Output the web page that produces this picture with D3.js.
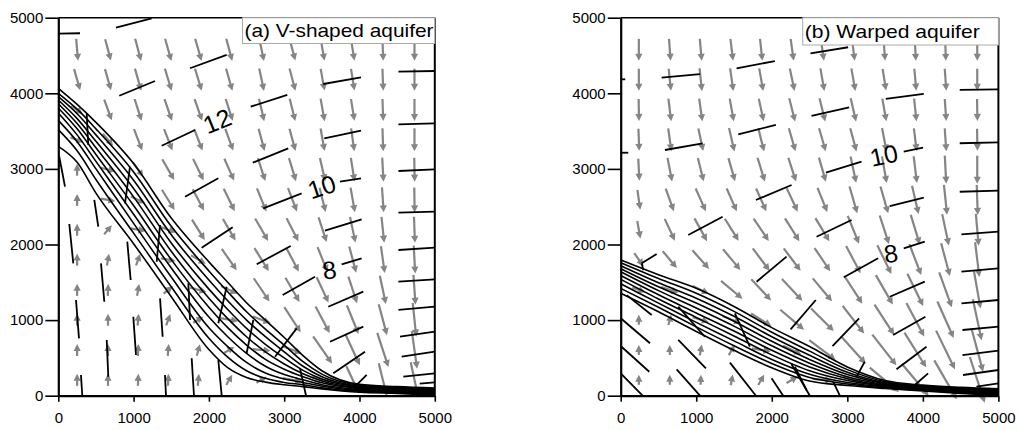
<!DOCTYPE html>
<html>
<head>
<meta charset="utf-8">
<script src="https://cdn.jsdelivr.net/npm/d3@7"></script>
<style>
  body { margin: 0; background: #fff; }
  text { font-family: "Liberation Sans", Arial, sans-serif; }
</style>
</head>
<body>
<svg id="chart" width="1017" height="430"></svg>
<script>
// ---- data (metres) ----
var tickValues = [0, 1000, 2000, 3000, 4000, 5000];
var titles = ["(a) V-shaped aquifer", "(b) Warped aquifer"];

// velocity grid (arrow centres)
var arrowColsA = [250, 660, 1060, 1460, 1860, 2270, 2700, 3110, 3510, 3910, 4310, 4730];
var arrowColsB = [240, 650, 1060, 1470, 1860, 2270, 2670, 3080, 3490, 3900, 4300, 4720];
var arrowRows = [4575, 4180, 3780, 3385, 2990, 2590, 2195, 1800, 1400, 1005, 605, 210];

// flow direction, degrees clockwise from straight down (0 = down, 90 = right, 180 = up)
var dirA = [
  [5, 15, 15, 16, 16, 15, 12, 15, 10, 9, 2, 0],
  [16, 16, 16, 17, 17, 16, 12, 15, 10, 9, 2, 0],
  [55, 20, 18, 19, 19, 18, 13, 14, 10, 9, 2, 0],
  [70, 40, 21, 21, 21, 20, 15, 15, 10, 8, 2, 0],
  [180, 75, 35, 30, 26, 24, 18, 17, 13, 9, 3, 1],
  [180, 80, 65, 32, 28, 26, 22, 21, 14, 10, 4, 1],
  [180, 140, 80, 70, 32, 30, 30, 27, 18, 12, 6, 2],
  [180, 170, 160, 80, 60, 35, 32, 28, 22, 15, 8, 3],
  [180, 178, 170, 130, 75, 65, 34, 30, 25, 18, 12, 4],
  [180, 180, 175, 160, 120, 80, 70, 33, 28, 22, 15, 6],
  [180, 180, 178, 175, 165, 120, 85, 70, 35, 25, 18, 8],
  [180, 180, 178, 178, 175, 150, 120, 80, 75, 25, 14, 12]
];
// flow speed (m/d)
var speedA = [
  [.22, .22, .23, .23, .23, .23, .23, .22, .22, .22, .22, .22],
  [.22, .22, .23, .23, .23, .23, .23, .23, .22, .22, .22, .22],
  [.14, .22, .23, .23, .23, .23, .23, .23, .23, .22, .22, .22],
  [.14, .16, .23, .23, .23, .23, .23, .23, .23, .23, .23, .23],
  [.12, .15, .18, .24, .24, .24, .24, .24, .24, .24, .24, .24],
  [.12, .15, .16, .24, .24, .25, .25, .25, .25, .25, .25, .25],
  [.12, .12, .15, .16, .24, .25, .26, .26, .26, .26, .26, .26],
  [.12, .12, .12, .15, .17, .26, .27, .27, .27, .27, .27, .28],
  [.12, .12, .12, .12, .17, .18, .28, .28, .28, .28, .29, .30],
  [.12, .12, .12, .12, .12, .18, .19, .30, .30, .31, .32, .34],
  [.12, .12, .12, .12, .12, .12, .18, .20, .33, .34, .36, .38],
  [.12, .12, .12, .12, .12, .12, .12, .20, .22, .30, .34, .36]
];
var dirB = [
  [0, 4, 5, 7, 6, 8, 8, 7, 4, 3, 2, 0],
  [0, 6, 6, 8, 10, 12, 10, 10, 9, 5, 4, 0],
  [1, 7, 8, 10, 12, 14, 14, 13, 10, 6, 4, 1],
  [2, 8, 12, 13, 14, 16, 16, 15, 11, 7, 4, 1],
  [3, 11, 14, 16, 17, 18, 16, 12, 10, 7, 3, 0],
  [8, 20, 24, 24, 24, 25, 22, 16, 16, 13, 6, 2],
  [10, 25, 29, 32, 34, 32, 31, 22, 18, 17, 12, 5],
  [35, 40, 42, 40, 37, 37, 34, 28, 26, 21, 15, 7],
  [70, 72, 65, 50, 43, 43, 40, 33, 30, 26, 20, 10],
  [180, 165, 72, 68, 58, 50, 45, 38, 33, 28, 24, 12],
  [180, 180, 170, 150, 80, 65, 53, 42, 38, 32, 26, 15],
  [180, 180, 178, 170, 150, 120, 85, 70, 50, 40, 30, 18]
];
var speedB = [
  [.22, .22, .22, .22, .22, .22, .22, .22, .22, .22, .22, .22],
  [.22, .22, .23, .23, .23, .23, .23, .23, .22, .22, .22, .22],
  [.22, .23, .23, .23, .23, .24, .24, .24, .23, .23, .22, .22],
  [.22, .23, .23, .24, .24, .24, .24, .24, .24, .23, .23, .22],
  [.22, .24, .24, .24, .25, .25, .25, .27, .27, .27, .28, .28],
  [.20, .24, .25, .25, .25, .26, .26, .28, .28, .29, .30, .30],
  [.18, .24, .26, .26, .27, .27, .27, .30, .30, .31, .32, .32],
  [.16, .22, .25, .27, .28, .28, .28, .31, .32, .33, .34, .35],
  [.14, .18, .18, .28, .29, .30, .30, .33, .34, .36, .37, .38],
  [.10, .11, .17, .20, .24, .31, .32, .35, .36, .38, .40, .42],
  [.10, .10, .11, .12, .19, .20, .33, .37, .39, .41, .43, .45],
  [.10, .10, .10, .11, .12, .13, .20, .22, .38, .42, .45, .48]
];

// transition-zone isolines: elevation of each of the 10 lines at these x positions
var zoneX = [0, 250, 500, 1000, 1500, 2000, 2250, 2500, 2750, 3000, 3250, 3500, 4000, 4500, 5000];
var zoneA = [
  [4066, 4000, 3955, 3911, 3862, 3806, 3740, 3642, 3519, 3298],
  [3853, 3790, 3730, 3665, 3600, 3530, 3450, 3360, 3240, 3087],
  [3615, 3530, 3450, 3365, 3280, 3190, 3100, 3000, 2860, 2680],
  [3070, 2960, 2850, 2740, 2630, 2515, 2400, 2280, 2150, 2010],
  [2350, 2240, 2130, 2020, 1910, 1800, 1690, 1570, 1440, 1310],
  [1770, 1650, 1530, 1410, 1290, 1170, 1040, 900, 760, 610],
  [1500, 1375, 1255, 1140, 1020, 900, 780, 650, 510, 370],
  [1230, 1110, 1000, 890, 780, 670, 560, 440, 330, 240],
  [1000, 880, 780, 680, 580, 480, 390, 300, 230, 180],
  [770, 670, 580, 500, 420, 350, 280, 220, 175, 145],
  [530, 450, 390, 335, 290, 250, 210, 175, 145, 120],
  [330, 285, 250, 220, 195, 170, 145, 125, 105, 90],
  [150, 138, 126, 115, 104, 93, 82, 70, 58, 46],
  [120, 108, 96, 86, 76, 66, 56, 46, 38, 30],
  [100, 90, 80, 70, 60, 50, 40, 30, 20, 8]
];
var zoneXB = [0, 500, 1000, 1500, 2000, 2500, 3000, 3500, 4000, 4500, 5000];
var zoneB = [
  [1795, 1760, 1720, 1680, 1640, 1590, 1540, 1480, 1420, 1355],
  [1600, 1550, 1495, 1440, 1390, 1335, 1280, 1225, 1170, 1110],
  [1420, 1355, 1290, 1225, 1160, 1095, 1035, 970, 910, 850],
  [1180, 1115, 1050, 985, 920, 855, 790, 725, 660, 600],
  [900, 840, 780, 720, 660, 600, 540, 480, 425, 370],
  [650, 590, 535, 480, 430, 380, 330, 285, 240, 195],
  [380, 345, 310, 280, 250, 225, 200, 175, 155, 135],
  [200, 185, 170, 158, 146, 135, 125, 115, 105, 95],
  [140, 130, 120, 112, 104, 96, 88, 80, 72, 64],
  [110, 100, 90, 80, 70, 62, 54, 46, 38, 30],
  [90, 80, 70, 60, 50, 40, 30, 20, 10, 5]
];

// head contour pieces [x1, y1, x2, y2]
var headA = [
  [0, 4790, 288, 4794], [766, 4868, 1240, 4992], [1749, 4331, 2236, 4507],
  [810, 3968, 1284, 4163], [1373, 3307, 1816, 3514], [1683, 2632, 2125, 2876],
  [13, 3161, 89, 2765], [377, 3735, 398, 3316], [952, 3029, 886, 2545],
  [4517, 4286, 5000, 4295], [3519, 4123, 4020, 4212], [2555, 3823, 3041, 3978],
  [3532, 3405, 4020, 3505], [4517, 3590, 5000, 3603], [2582, 3082, 3054, 3272],
  [4517, 2972, 5000, 2995], [3741, 2831, 4020, 2876], [2722, 2479, 3232, 2677],
  [3541, 2183, 4028, 2333], [1904, 1958, 2316, 2228], [2635, 1738, 3086, 1980],
  [2980, 1332, 3409, 1574], [3763, 1738, 4028, 1817], [4517, 2421, 5000, 2434],
  [4517, 1927, 5000, 1958], [4517, 1508, 5000, 1540], [4517, 1134, 5000, 1177],
  [4538, 780, 5000, 847], [4560, 516, 5000, 582], [4582, 251, 5000, 296],
  [4800, 160, 5000, 175], [3585, 1177, 4050, 1376], [3608, 714, 4050, 913],
  [3652, 296, 4073, 582], [3940, 119, 4095, 274], [2878, 516, 3166, 891],
  [3210, 362, 3290, 0], [1351, 2258, 1307, 1772], [1727, 1487, 1749, 1001],
  [2236, 1442, 2125, 958], [2590, 1001, 2501, 561], [146, 2271, 199, 1751],
  [235, 1266, 275, 759], [301, 274, 319, 0], [478, 2589, 531, 2236],
  [567, 1751, 611, 1243], [643, 737, 664, 251], [916, 2037, 961, 1530],
  [996, 1045, 1032, 538], [1351, 1288, 1386, 780], [1417, 274, 1430, 0],
  [1771, 495, 1802, 0], [2125, 472, 2170, 0]
];
var headB = [
  [0, 4185, 60, 4185], [0, 3214, 100, 3214], [542, 4206, 1049, 4255],
  [1534, 4331, 2041, 4427], [586, 3250, 1085, 3339], [1556, 3458, 2054, 3581],
  [1790, 2589, 2262, 2787], [2513, 4529, 3011, 4609], [3509, 3925, 4012, 3991],
  [4488, 4044, 5000, 4053], [2526, 3700, 3024, 3815], [3747, 3228, 4003, 3280],
  [4488, 3339, 5000, 3352], [2716, 2950, 3188, 3095], [4488, 2698, 5000, 2712],
  [3562, 2509, 4012, 2619], [894, 2126, 1349, 2368], [1799, 1508, 2196, 1839],
  [278, 1751, 476, 1874], [278, 1751, 300, 1660], [0, 296, 290, 0],
  [0, 657, 378, 317], [0, 1024, 388, 693], [80, 1330, 410, 1067],
  [741, 349, 1049, 0], [762, 737, 1128, 362], [762, 1177, 1115, 780],
  [1446, 437, 1790, 0], [1512, 1090, 1710, 648], [1997, 230, 2151, 0],
  [2306, 384, 2460, 75], [2260, 420, 2504, 0], [2812, 185, 2901, 0],
  [3122, 251, 3231, 450], [2593, 2103, 3056, 2324], [2954, 1566, 3408, 1817],
  [2249, 878, 2583, 1266], [2804, 657, 3156, 1024], [3747, 1950, 4025, 2037],
  [3562, 1309, 4025, 1508], [3606, 803, 4034, 1045], [3651, 349, 4048, 648],
  [3893, 142, 4069, 296], [4511, 2135, 5000, 2169], [4511, 1640, 5000, 1685],
  [4511, 1222, 5000, 1266], [4524, 869, 5000, 913], [4524, 538, 5000, 595],
  [4532, 274, 5000, 340], [4709, 119, 5000, 164]
];

// contour labels [x, y, text, rotation]
var labelsA = [[2108, 3634, "12", -22], [3498, 2765, "10", -18], [3599, 1663, "8", -8]];
var labelsB = [[3483, 3181, "10", -12], [3576, 1884, "8", -8]];

// ---- layout ----
var svg = d3.select("#chart");
var plotTop = 17.7, plotBottom = 395.7;

var panels = [
  { left: 58.3, right: 434.8, cols: arrowColsA, dir: dirA, speed: speedA,
    zx: zoneX, zone: zoneA, head: headA, labels: labelsA, title: titles[0],
    boxW: 192.3, boxH: 25.8, titleLen: 189 },
  { left: 620.7, right: 998.4, cols: arrowColsB, dir: dirB, speed: speedB,
    zx: zoneXB, zone: zoneB, head: headB, labels: labelsB, title: titles[1],
    boxW: 195.7, boxH: 27.3, titleLen: 175 }
];

var arrowLen = d3.scaleLinear().domain([0, 1]).range([0, 100]);
var grey = "#858585";

panels.forEach(function(p) {
  var x = d3.scaleLinear().domain([0, 5000]).range([p.left, p.right]);
  var y = d3.scaleLinear().domain([0, 5000]).range([plotBottom, plotTop]);
  var g = svg.append("g");

  // velocity arrows
  var arrows = [];
  arrowRows.forEach(function(ry, j) {
    p.cols.forEach(function(cx, i) {
      arrows.push({ x: cx, y: ry, a: p.dir[j][i], s: p.speed[j][i] });
    });
  });
  var ag = g.append("g");
  arrows.forEach(function(d) {
    var L = arrowLen(d.s);
    var rad = d.a * Math.PI / 180;
    var ux = Math.sin(rad), uy = Math.cos(rad);   // screen coords, y down
    var cx = x(d.x), cy = y(d.y);
    var tx = cx - ux * L / 2, ty = cy - uy * L / 2;
    var hx = cx + ux * L / 2, hy = cy + uy * L / 2;
    var hl = 7, hw = 3.6;
    var bx = hx - ux * hl, by = hy - uy * hl;
    ag.append("line")
      .attr("x1", tx).attr("y1", ty).attr("x2", bx + ux).attr("y2", by + uy)
      .attr("stroke", grey).attr("stroke-width", 2.2);
    ag.append("path")
      .attr("d", "M" + hx + "," + hy + "L" + (bx - uy * hw) + "," + (by + ux * hw) +
                 "L" + (bx + uy * hw) + "," + (by - ux * hw) + "Z")
      .attr("fill", grey);
  });

  // transition-zone lines
  var line = d3.line().x(d => x(d[0])).y(d => y(d[1])).curve(d3.curveMonotoneX);
  for (var k = 0; k < 10; k++) {
    var pts = p.zx.map(function(xv, i) { return [xv, p.zone[i][k]]; });
    g.append("path").attr("d", line(pts))
      .attr("fill", "none").attr("stroke", "#000").attr("stroke-width", 1.6);
  }

  // head contours
  g.append("g").selectAll("line").data(p.head).enter().append("line")
    .attr("x1", d => x(d[0])).attr("y1", d => y(d[1]))
    .attr("x2", d => x(d[2])).attr("y2", d => y(d[3]))
    .attr("stroke", "#000").attr("stroke-width", 1.8);

  g.append("g").selectAll("text").data(p.labels).enter().append("text")
    .attr("transform", d => "translate(" + x(d[0]) + "," + y(d[1]) + ") rotate(" + d[3] + ")")
    .attr("text-anchor", "middle").attr("dy", "0.36em")
    .attr("font-size", 25).text(d => d[2]);

  // frame
  g.append("line").attr("x1", p.left).attr("x2", p.right)
    .attr("y1", plotTop).attr("y2", plotTop).attr("stroke", "#000").attr("stroke-width", 1.5);
  g.append("line").attr("x1", p.right).attr("x2", p.right)
    .attr("y1", plotTop).attr("y2", plotBottom).attr("stroke", "#000").attr("stroke-width", 2);

  // title box
  g.append("rect")
    .attr("x", p.right - p.boxW).attr("y", plotTop)
    .attr("width", p.boxW).attr("height", p.boxH)
    .attr("fill", "#fff").attr("stroke", "#aaa").attr("stroke-width", 1);
  g.append("text")
    .attr("x", p.right - p.boxW + 2).attr("y", plotTop + p.boxH - 7)
    .attr("font-size", 19)
    .attr("textLength", p.titleLen).attr("lengthAdjust", "spacingAndGlyphs")
    .text(p.title);

  // axes
  var xAxis = d3.axisBottom(x).tickValues(tickValues).tickFormat(d3.format("d"))
    .tickSize(6).tickSizeOuter(0).tickPadding(11);
  var yAxis = d3.axisLeft(y).tickValues(tickValues).tickFormat(d3.format("d"))
    .tickSize(13).tickSizeOuter(0).tickPadding(2);

  var gx = g.append("g").attr("transform", "translate(0," + plotBottom + ")").call(xAxis);
  var gy = g.append("g").attr("transform", "translate(" + p.left + ",0)").call(yAxis);
  [gx, gy].forEach(function(a) {
    a.select(".domain").attr("stroke-width", 2.2);
    a.selectAll(".tick line").attr("stroke-width", 1.6);
    a.selectAll("text").attr("font-size", 15).attr("fill", "#000")
      .attr("font-family", "'Liberation Sans', Arial, sans-serif");
  });
});
</script>
</body>
</html>
